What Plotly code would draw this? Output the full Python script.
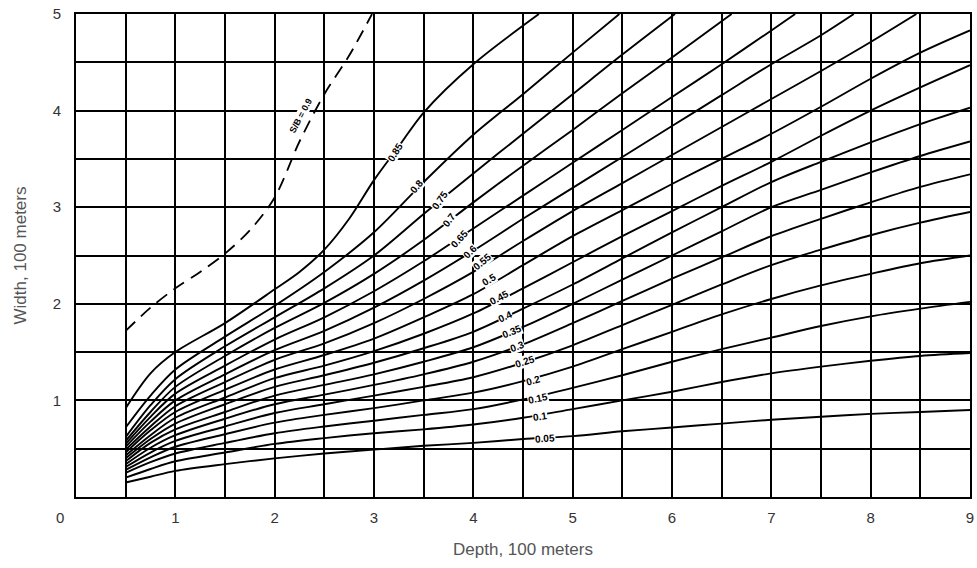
import plotly.graph_objects as go

# ---- data (depth and width in 100 m) ----
depth = [0.5, 0.75, 1, 1.5, 2, 2.5, 3, 3.5, 4, 4.5, 5, 5.5, 6, 6.5, 7, 7.5, 8, 8.5, 9]

w_005 = [0.15, 0.21, 0.27, 0.34, 0.40, 0.45, 0.49, 0.53, 0.56, 0.60, 0.63, 0.68, 0.72, 0.76, 0.80, 0.83, 0.86, 0.88, 0.90]
w_010 = [0.20, 0.29, 0.37, 0.46, 0.55, 0.61, 0.66, 0.70, 0.75, 0.82, 0.91, 1.00, 1.09, 1.19, 1.28, 1.35, 1.41, 1.46, 1.49]
w_015 = [0.25, 0.36, 0.45, 0.56, 0.66, 0.73, 0.79, 0.85, 0.91, 1.01, 1.13, 1.26, 1.40, 1.53, 1.65, 1.77, 1.87, 1.95, 2.02]
w_020 = [0.28, 0.41, 0.52, 0.65, 0.77, 0.85, 0.92, 1.00, 1.08, 1.20, 1.35, 1.53, 1.71, 1.89, 2.05, 2.19, 2.31, 2.42, 2.50]
w_025 = [0.31, 0.46, 0.58, 0.73, 0.87, 0.96, 1.05, 1.14, 1.24, 1.39, 1.57, 1.78, 1.99, 2.20, 2.40, 2.56, 2.71, 2.84, 2.95]
w_030 = [0.34, 0.51, 0.64, 0.81, 0.96, 1.06, 1.16, 1.27, 1.40, 1.58, 1.80, 2.03, 2.26, 2.48, 2.70, 2.88, 3.05, 3.21, 3.34]
w_035 = [0.37, 0.56, 0.70, 0.88, 1.05, 1.16, 1.27, 1.40, 1.55, 1.76, 2.00, 2.25, 2.50, 2.75, 3.00, 3.18, 3.36, 3.53, 3.68]
w_040 = [0.40, 0.60, 0.76, 0.96, 1.14, 1.26, 1.39, 1.54, 1.71, 1.95, 2.20, 2.47, 2.74, 3.00, 3.26, 3.47, 3.67, 3.86, 4.03]
w_045 = [0.43, 0.64, 0.82, 1.03, 1.23, 1.36, 1.51, 1.69, 1.90, 2.16, 2.43, 2.70, 2.96, 3.22, 3.47, 3.74, 4.00, 4.24, 4.47]
w_050 = [0.46, 0.69, 0.88, 1.11, 1.32, 1.47, 1.64, 1.86, 2.10, 2.40, 2.70, 2.97, 3.24, 3.50, 3.76, 4.04, 4.33, 4.60, 4.83]

# curves that leave through the top edge: own depth lists, last point on the top edge
d_055 = [0.5, 0.75, 1, 1.5, 2, 2.5, 3, 3.5, 4, 4.5, 5, 5.5, 6, 6.5, 7, 7.5, 8, 8.46]
w_055 = [0.49, 0.73, 0.94, 1.19, 1.42, 1.59, 1.80, 2.05, 2.33, 2.65, 2.96, 3.25, 3.54, 3.83, 4.12, 4.41, 4.71, 5.00]
d_060 = [0.5, 0.75, 1, 1.5, 2, 2.5, 3, 3.5, 4, 4.5, 5, 5.5, 6, 6.5, 7, 7.5, 7.83]
w_060 = [0.52, 0.78, 1.00, 1.27, 1.52, 1.72, 1.96, 2.24, 2.55, 2.88, 3.20, 3.52, 3.84, 4.16, 4.48, 4.78, 5.00]
d_065 = [0.5, 0.75, 1, 1.5, 2, 2.5, 3, 3.5, 4, 4.5, 5, 5.5, 6, 6.5, 7, 7.24]
w_065 = [0.55, 0.83, 1.07, 1.36, 1.63, 1.86, 2.13, 2.44, 2.78, 3.12, 3.46, 3.80, 4.14, 4.48, 4.83, 5.00]
d_070 = [0.5, 0.75, 1, 1.5, 2, 2.5, 3, 3.5, 4, 4.5, 5, 5.5, 6, 6.6]
w_070 = [0.58, 0.88, 1.14, 1.46, 1.75, 2.01, 2.31, 2.66, 3.05, 3.43, 3.80, 4.18, 4.55, 5.00]
d_075 = [0.5, 0.75, 1, 1.5, 2, 2.5, 3, 3.5, 4, 4.5, 5, 5.5, 6.03]
w_075 = [0.62, 0.95, 1.22, 1.56, 1.86, 2.16, 2.50, 2.93, 3.35, 3.76, 4.17, 4.58, 5.00]
d_080 = [0.5, 0.75, 1, 1.5, 2, 2.5, 3, 3.5, 4, 4.5, 5, 5.47]
w_080 = [0.72, 1.05, 1.32, 1.66, 1.98, 2.33, 2.74, 3.26, 3.75, 4.17, 4.60, 5.00]
d_085 = [0.5, 0.75, 1, 1.5, 2, 2.25, 2.5, 2.75, 3, 3.25, 3.5, 4, 4.66]
w_085 = [0.92, 1.28, 1.50, 1.80, 2.15, 2.33, 2.56, 2.88, 3.28, 3.63, 3.98, 4.48, 5.00]

# dashed limit curve
d_limit = [0.5, 0.75, 1.0, 1.25, 1.5, 1.75, 2.0, 2.25, 2.5, 2.75, 2.98]
w_limit = [1.72, 1.96, 2.16, 2.33, 2.52, 2.76, 3.10, 3.68, 4.17, 4.57, 5.00]

curve_names = ["0.05", "0.1", "0.15", "0.2", "0.25", "0.3", "0.35", "0.4", "0.45", "0.5",
               "0.55", "0.6", "0.65", "0.7", "0.75", "0.8", "0.85"]
curve_x = [depth] * 10 + [d_055, d_060, d_065, d_070, d_075, d_080, d_085]
curve_y = [w_005, w_010, w_015, w_020, w_025, w_030, w_035, w_040, w_045, w_050,
           w_055, w_060, w_065, w_070, w_075, w_080, w_085]

# label positions on curves (depth, width) and text angles
label_x = [4.72, 4.67, 4.65, 4.60, 4.52, 4.44, 4.39, 4.32, 4.26, 4.16, 4.09, 3.97, 3.86, 3.76, 3.66, 3.43, 3.21]
label_y = [0.61, 0.83, 1.02, 1.21, 1.40, 1.56, 1.71, 1.87, 2.07, 2.25, 2.44, 2.54, 2.68, 2.87, 3.07, 3.21, 3.57]
label_angle = [-4, -8, -12, -15, -18, -20, -22, -25, -28, -32, -40, -45, -48, -52, -55, -50, -58]

x_ticks = [1, 2, 3, 4, 5, 6, 7, 8, 9]
y_ticks = [1, 2, 3, 4, 5]

FONT = "Liberation Sans, Arial, sans-serif"

fig = go.Figure()
for nm, xs, ys in zip(curve_names, curve_x, curve_y):
    fig.add_trace(go.Scatter(x=xs, y=ys, mode="lines", name=nm,
                             line=dict(color="black", width=1.9, shape="spline", smoothing=0.9),
                             hoverinfo="skip", showlegend=False))
fig.add_trace(go.Scatter(x=d_limit, y=w_limit, mode="lines", name="S/B = 0.9",
                         line=dict(color="black", width=1.8, dash="13px,8px", shape="spline", smoothing=0.9),
                         hoverinfo="skip", showlegend=False))

for nm, lx, ly, ang in zip(curve_names, label_x, label_y, label_angle):
    fig.add_annotation(x=lx, y=ly, text="<b>" + nm + "</b>", showarrow=False, textangle=ang,
                       font=dict(family=FONT, size=10, color="black"),
                       bgcolor="white", borderpad=0)

fig.add_annotation(x=2.27, y=3.95, text="<b>S/B = 0.9</b>", showarrow=False, textangle=-62,
                   font=dict(family=FONT, size=9, color="black"),
                   bgcolor="white", borderpad=0)

# shared origin label
fig.add_annotation(x=0, y=0, xref="paper", yref="paper", text="0", showarrow=False,
                   xanchor="center", yanchor="middle", xshift=-16, yshift=-20,
                   font=dict(family=FONT, size=15, color="#333"))

grid = dict(showgrid=True, gridcolor="black", gridwidth=1.6)
fig.update_xaxes(range=[0, 9], tickvals=x_ticks, ticks="outside", ticklen=6, tickcolor="rgba(0,0,0,0)",
                 showline=True, linecolor="black", linewidth=2, mirror=True, zeroline=False,
                 automargin=False,
                 minor=dict(dtick=0.5, showgrid=True, gridcolor="black", gridwidth=1.6),
                 title=dict(text="Depth, 100 meters", standoff=18,
                            font=dict(family=FONT, size=17, color="#555")),
                 tickfont=dict(family=FONT, size=15, color="#333"), **grid)
fig.update_yaxes(range=[0, 5], tickvals=y_ticks, ticks="outside", ticklen=10, tickcolor="rgba(0,0,0,0)",
                 showline=True, linecolor="black", linewidth=2, mirror=True, zeroline=False,
                 automargin=False,
                 minor=dict(dtick=0.5, showgrid=True, gridcolor="black", gridwidth=1.6),
                 title=dict(text="Width, 100 meters", standoff=22,
                            font=dict(family=FONT, size=17, color="#555")),
                 tickfont=dict(family=FONT, size=15, color="#333"), **grid)

fig.update_layout(width=977, height=568, margin=dict(l=76, r=7, t=14, b=71),
                  paper_bgcolor="white", plot_bgcolor="white", showlegend=False)

# remove the page's default 8px body margin so the figure fills the window exactly
fig.write_html("out.html", config={"displayModeBar": False},
               post_script="document.body.style.margin='0px';"
                           "document.documentElement.style.overflow='hidden';")
